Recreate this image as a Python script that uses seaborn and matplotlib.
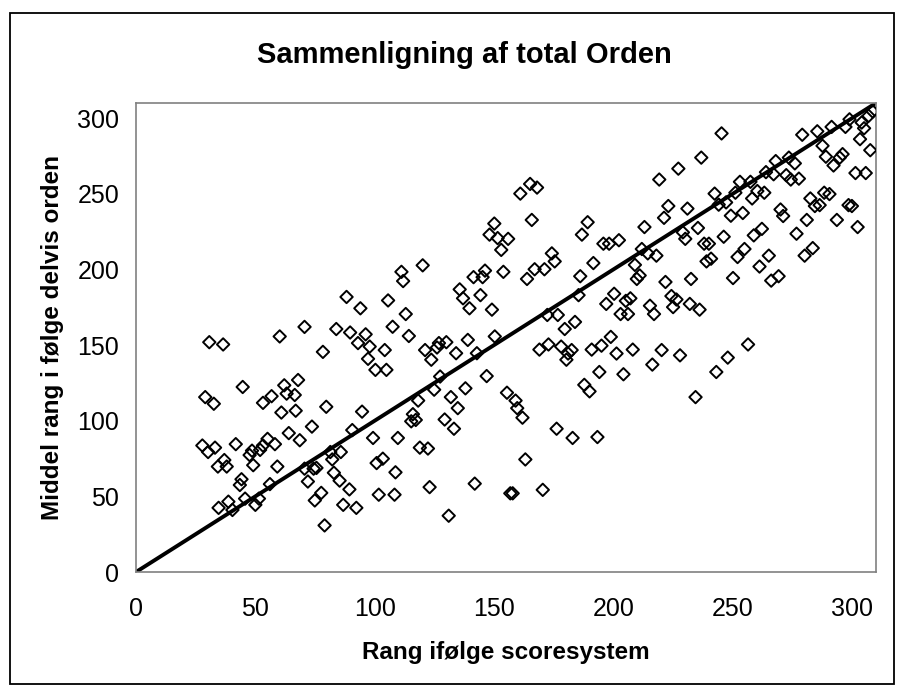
import matplotlib
matplotlib.use("Agg")
import matplotlib.pyplot as plt
import matplotlib.patches as mpatches
import seaborn as sns
import pandas as pd

title = "Sammenligning af total Orden"
x_label = "Rang ifølge scoresystem"
y_label = "Middel rang i følge delvis orden"

rank_score = [
    27.8, 30.2, 29.0, 32.6, 30.7, 36.5, 33.1, 34.3, 34.6, 37.0, 38.0, 38.7, 40.4, 41.8,
    44.7, 43.5, 44.2, 45.7, 47.6, 48.6, 49.1, 50.0, 51.5, 52.0, 53.2, 53.2, 55.1, 56.1,
    56.8, 58.2, 59.2, 60.2, 60.9, 62.1, 63.1, 64.0, 66.5, 66.9, 67.9, 68.6, 70.6, 70.6,
    72.0, 73.7, 74.4, 75.6, 74.9, 77.6, 78.3, 79.0, 79.7, 81.4, 82.2, 82.9, 83.9, 85.3,
    85.8, 86.8, 88.2, 89.4, 89.7, 90.6, 92.3, 93.0, 94.0, 94.7, 96.2, 97.2, 97.9, 99.3,
    100.3, 100.8, 101.7, 103.4, 104.2, 104.9, 105.6, 107.5, 108.3, 108.7, 109.7, 111.2,
    111.9, 113.0, 114.3, 115.3, 116.0, 117.2, 118.2, 118.9, 120.1, 121.1, 122.3, 123.0,
    123.7, 124.9, 126.1, 127.4, 126.9, 129.3, 130.0, 131.0, 131.9, 133.2, 134.1, 134.8,
    135.6, 137.0, 138.0, 139.0, 139.7, 141.4, 141.9, 142.8, 144.3, 145.2, 146.2, 146.9,
    148.1, 149.1, 150.1, 150.3, 151.5, 153.0, 153.9, 155.4, 155.9, 156.8, 157.8, 159.0,
    159.7, 161.0, 161.9, 163.1, 163.8, 165.1, 165.8, 167.0, 168.0, 169.0, 170.4, 171.1,
    172.3, 172.8, 174.2, 175.4, 176.2, 176.7, 178.1, 179.6, 180.3, 181.0, 182.5, 182.9,
    183.9, 185.4, 186.1, 186.8, 187.8, 189.2, 190.0, 190.9, 191.6, 193.3, 194.1, 195.0,
    195.8, 197.0, 198.2, 198.9, 200.3, 201.3, 202.3, 203.0, 204.2, 205.2, 206.1, 207.1,
    208.1, 209.0, 209.8, 211.0, 211.9, 213.0, 214.4, 215.3, 216.3, 217.0, 218.0, 219.2,
    220.2, 221.2, 221.8, 223.0, 224.3, 225.0, 226.4, 227.2, 227.9, 229.1, 230.1, 231.0,
    232.0, 232.5, 234.4, 235.4, 236.1, 236.8, 238.0, 239.0, 240.0, 240.9, 242.4, 243.1,
    244.1, 245.3, 246.2, 247.2, 247.9, 249.2, 250.1, 251.1, 252.0, 253.0, 254.2, 254.9,
    256.4, 257.4, 258.1, 258.8, 260.3, 261.2, 262.2, 263.2, 263.9, 265.1, 266.1, 267.1,
    268.0, 269.2, 270.0, 271.1, 272.4, 273.5, 274.3, 276.0, 276.7, 277.7, 279.1, 280.1,
    281.0, 282.5, 283.5, 284.4, 285.4, 286.4, 287.6, 288.3, 289.0, 290.5, 291.4, 292.2,
    293.6, 294.8, 296.0, 297.2, 298.5, 298.9, 299.9, 301.4, 302.3, 303.3, 304.0, 305.0,
    305.7, 306.9, 307.6, 308.6,
]
mean_rank = [
    83.6, 79.3, 115.6, 111.2, 151.9, 150.4, 82.2, 69.7, 42.4, 74.0, 69.7, 46.5, 41.0, 84.5,
    122.3, 57.5, 61.3, 48.5, 77.3, 80.2, 70.6, 44.4, 48.5, 80.7, 83.6, 111.8, 88.0, 58.1,
    116.2, 84.5, 69.7, 155.7, 105.4, 123.4, 117.9, 91.8, 117.0, 106.6, 126.9, 87.1, 162.0, 68.3,
    59.8, 96.1, 68.3, 68.8, 47.3, 52.3, 145.5, 30.8, 109.2, 79.3, 74.4, 65.6, 160.6, 60.4,
    79.3, 44.4, 181.8, 54.6, 158.3, 93.8, 42.4, 151.3, 174.3, 106.0, 157.1, 140.9, 149.0, 88.6,
    133.6, 72.0, 51.1, 74.9, 146.7, 133.6, 179.5, 162.1, 51.1, 65.9, 88.6, 198.4,
    192.3, 170.5, 156.0, 99.6, 104.3, 100.5, 113.3, 82.2, 202.7, 146.7, 81.6, 56.1,
    140.3, 120.5, 148.4, 129.2, 151.3, 100.8, 151.9, 37.2, 115.6, 94.7, 144.6, 108.3,
    186.8, 180.9, 121.4, 153.4, 174.3, 194.9, 58.4, 144.6, 183.0, 194.9, 199.2, 129.5,
    223.0, 173.4, 230.3, 155.7, 220.7, 212.9, 198.4, 118.5, 220.2, 52.0, 52.0, 113.3,
    108.3, 250.1, 102.0, 74.4, 193.7, 256.5, 232.7, 200.1, 254.1, 147.0, 54.3, 200.1,
    169.9, 150.4, 210.6, 205.3, 94.7, 169.9, 149.0, 160.6, 140.3, 144.4, 146.7, 88.6,
    165.3, 183.0, 195.5, 223.0, 123.7, 231.2, 119.4, 147.0, 204.2, 89.2, 132.2, 149.6,
    217.0, 177.2, 217.0, 155.4, 183.9, 144.4, 219.3, 170.5, 130.7, 179.2, 170.5, 180.9,
    147.0, 203.0, 193.7, 196.0, 213.5, 228.0, 210.6, 176.0, 137.1, 170.5, 209.1, 259.4,
    146.7, 234.1, 191.7, 241.9, 182.4, 175.1, 180.1, 266.6, 143.2, 224.5, 220.2, 240.2,
    177.2, 193.7, 115.6, 227.4, 173.4, 273.9, 217.0, 205.3, 217.0, 207.1, 250.1, 132.2,
    242.8, 289.9, 221.6, 244.3, 141.7, 235.5, 194.3, 250.7, 208.2, 257.9, 237.3, 213.5,
    150.4, 257.9, 246.9, 222.5, 251.8, 201.9, 226.8, 250.7, 264.3, 209.1, 192.6, 262.9,
    271.6, 195.5, 239.6, 235.3, 262.3, 273.9, 259.4, 270.1, 223.6, 260.0, 289.0, 209.1,
    232.7, 246.9, 214.1, 241.9, 291.3, 242.5, 281.7, 250.7, 274.5, 249.8, 294.2, 268.7,
    232.7, 273.9, 276.2, 294.2, 242.5, 299.2, 241.9, 263.7, 228.0, 286.1, 297.1, 293.3,
    263.7, 301.5, 278.8, 304.4,
]
line_x = [0, 310]
line_y = [0, 310]
ticks = [0, 50, 100, 150, 200, 250, 300]

df = pd.DataFrame({"x": rank_score, "y": mean_rank})
line_df = pd.DataFrame({"x": line_x, "y": line_y})

sns.set_theme(style="white")
plt.rcParams["font.family"] = ["Liberation Sans", "DejaVu Sans"]
plt.rcParams["text.color"] = "black"
plt.rcParams["xtick.color"] = "black"
plt.rcParams["ytick.color"] = "black"

fig = plt.figure(figsize=(9.05, 6.88), dpi=100)
ax = fig.add_axes([136 / 905, 1 - 572 / 688, (876 - 136) / 905, (572 - 103) / 688])

sns.lineplot(data=line_df, x="x", y="y", color="black", linewidth=2.8, ax=ax, zorder=2)
sns.scatterplot(data=df, x="x", y="y", marker="D", s=40, facecolors="none",
                edgecolor="black", linewidth=1.4, ax=ax, zorder=3)

ax.set_xlim(0, 310)
ax.set_ylim(0, 310)
ax.set_xticks(ticks)
ax.set_yticks(ticks)
ax.set_xticklabels([str(t) for t in ticks])
ax.set_yticklabels([str(t) for t in ticks])
ax.set_xlabel("")
ax.set_ylabel("")
for sp in ax.spines.values():
    sp.set_visible(True)
    sp.set_color("#808080")
    sp.set_linewidth(1.2)
ax.tick_params(axis="both", which="major", direction="out", length=5, width=1,
               color="#606060", labelsize=18, labelcolor="black")
ax.tick_params(axis="x", pad=13)
ax.tick_params(axis="y", pad=7)

fig.text(464 / 905, 1 - 55 / 688, title, ha="center", va="center",
         fontsize=21, fontweight="bold", color="black")
fig.text(506 / 905, 1 - 652 / 688, x_label, ha="center", va="center",
         fontsize=17.5, fontweight="bold", color="black")
fig.text(52 / 905, 1 - 338 / 688, y_label, ha="center", va="center",
         fontsize=17.5, fontweight="bold", rotation=90, color="black")

frame = mpatches.Rectangle((10 / 905, 1 - 684 / 688), (894 - 10) / 905, (684 - 13) / 688,
                           transform=fig.transFigure, fill=False, edgecolor="black",
                           linewidth=1.3)
fig.patches.append(frame)

fig.savefig("out.png", dpi=100)
